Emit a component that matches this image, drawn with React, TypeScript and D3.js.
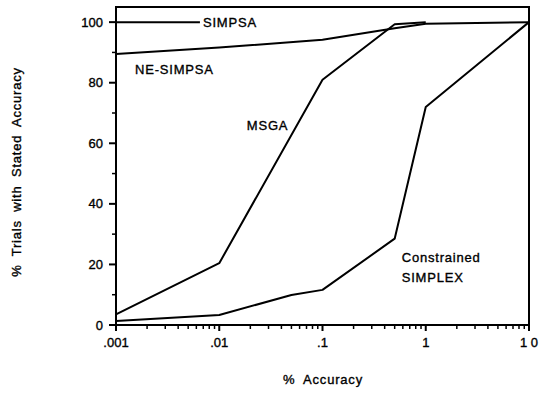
import { useEffect } from 'react';
import * as d3 from 'd3';

// values (x = % accuracy, y = % trials)
const SIMPSA_X = [0.001, 0.0065];
const SIMPSA_Y = [100, 100];

const NE_SIMPSA_X = [0.001, 0.01, 0.1, 0.5, 1, 10];
const NE_SIMPSA_Y = [89.5, 91.6, 94.2, 98, 99.5, 100];

const MSGA_X = [0.001, 0.01, 0.1, 0.5, 1];
const MSGA_Y = [3.5, 20.4, 81, 99.3, 100];

const SIMPLEX_X = [0.001, 0.01, 0.05, 0.1, 0.5, 1, 10];
const SIMPLEX_Y = [1.3, 3.3, 9.9, 11.6, 28.5, 72, 100];

const X_TICKS = [0.001, 0.01, 0.1, 1, 10];
const X_TICK_LABELS = ['.001', '.01', '.1', '1', '1 0'];
const Y_TICKS = [0, 20, 40, 60, 80, 100];
const Y_MINOR = [10, 30, 50, 70, 90];

const WIDTH = 539;
const HEIGHT = 393;
const margin = { top: 7, right: 10, bottom: 68, left: 116 };
const FONT = "'Liberation Sans', Arial, Helvetica, sans-serif";

const x = d3.scaleLog().domain([0.001, 10]).range([margin.left, WIDTH - margin.right]);
const y = d3.scaleLinear().domain([0, 105]).range([HEIGHT - margin.bottom, margin.top]);

const line = d3
  .line<[number, number]>()
  .x((d) => x(d[0]))
  .y((d) => y(d[1]));

const zip = (xs: number[], ys: number[]) => xs.map((v, i) => [v, ys[i]] as [number, number]);

const SERIES = [
  zip(SIMPSA_X, SIMPSA_Y),
  zip(NE_SIMPSA_X, NE_SIMPSA_Y),
  zip(MSGA_X, MSGA_Y),
  zip(SIMPLEX_X, SIMPLEX_Y),
];

// minor log ticks 2..9 in each decade
const X_MINOR: number[] = [];
X_TICKS.slice(0, -1).forEach((d) => {
  for (let k = 2; k <= 9; k++) X_MINOR.push(d * k);
});

// heavier, slightly spaced type like the scanned original
const txt = { fontSize: 13, stroke: '#000', strokeWidth: 0.35 };
const wordy = { ...txt, letterSpacing: 0.8 };

export default function App() {
  useEffect(() => {
    document.body.style.margin = '0';
  }, []);

  const x0 = margin.left;
  const x1 = WIDTH - margin.right;
  const y0 = HEIGHT - margin.bottom;
  const y1 = margin.top;

  return (
    <svg width={WIDTH} height={HEIGHT} style={{ display: 'block', background: '#fff' }} fontFamily={FONT}>
      {/* frame */}
      <rect x={x0} y={y1} width={x1 - x0} height={y0 - y1} fill="none" stroke="#000" strokeWidth={2} />

      {/* y ticks */}
      {Y_TICKS.map((t) => (
        <g key={t}>
          <line x1={x0 - 7} x2={x0} y1={y(t)} y2={y(t)} stroke="#000" strokeWidth={2} />
          <text x={x0 - 13} y={y(t) + 4.5} textAnchor="end" {...txt}>
            {t}
          </text>
        </g>
      ))}
      {Y_MINOR.map((t) => (
        <line key={t} x1={x0 - 4} x2={x0} y1={y(t)} y2={y(t)} stroke="#000" strokeWidth={1.5} />
      ))}

      {/* x ticks */}
      {X_TICKS.map((t, i) => (
        <g key={t}>
          <line x1={x(t)} x2={x(t)} y1={y0} y2={y0 + 6} stroke="#000" strokeWidth={2} />
          <text x={x(t)} y={y0 + 22} textAnchor="middle" {...txt}>
            {X_TICK_LABELS[i]}
          </text>
        </g>
      ))}
      {X_MINOR.map((t) => (
        <line key={t} x1={x(t)} x2={x(t)} y1={y0} y2={y0 + 4} stroke="#000" strokeWidth={1.5} />
      ))}

      {/* series */}
      {SERIES.map((s, i) => (
        <path key={i} d={line(s) ?? ''} fill="none" stroke="#000" strokeWidth={2} strokeLinejoin="round" />
      ))}

      {/* labels */}
      <text x={x(0.00695)} y={y(100) + 4.5} {...wordy}>SIMPSA</text>
      <text x={x(0.00153)} y={y(82.8)} {...wordy}>NE-SIMPSA</text>
      <text x={x(0.0185)} y={y(64.4)} {...wordy}>MSGA</text>
      <text x={x(0.585)} y={y(20.8)} {...wordy}>Constrained</text>
      <text x={x(0.585)} y={y(14.2)} {...wordy}>SIMPLEX</text>

      {/* axis titles */}
      <text x={323} y={384} textAnchor="middle" wordSpacing={4} {...wordy}>
        % Accuracy
      </text>
      <text
        transform={`translate(21, ${172}) rotate(-90)`}
        textAnchor="middle"
        wordSpacing={4}
        {...wordy}
      >
        % Trials with Stated Accuracy
      </text>
    </svg>
  );
}
